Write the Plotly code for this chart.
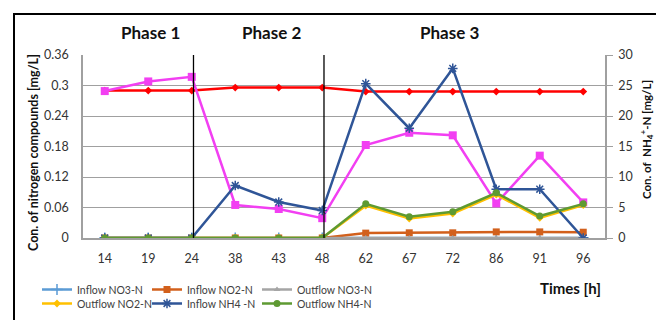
import plotly.graph_objects as go

times = ["14", "19", "24", "38", "43", "48", "62", "67", "72", "86", "91", "96"]

inflow_no3 = [0, 0, 0, 0, 0, 0, 0, 0, 0, 0, 0, 0]
inflow_no2 = [0, 0, 0, 0, 0, 0, 0.8, 0.85, 0.85, 1.0, 1.0, 0.95]
outflow_no3 = [0, 0, 0, 0, 0, 0, 0, 0, 0, 0, 0, 0]
outflow_no2 = [0, 0, 0, 0, 0, 0, 5.3, 3.2, 4.0, 7.1, 3.3, 5.4]
inflow_nh4 = [0, 0, 0, 8.6, 5.9, 4.5, 25.3, 18.0, 27.8, 8.0, 8.0, 0]
outflow_nh4 = [0, 0, 0, 0, 0, 0, 5.6, 3.5, 4.3, 7.4, 3.6, 5.6]
series_red = [0.29, 0.29, 0.29, 0.296, 0.296, 0.296, 0.288, 0.288, 0.288, 0.288, 0.288, 0.288]
series_magenta = [0.289, 0.308, 0.317, 0.065, 0.057, 0.039, 0.183, 0.207, 0.202, 0.068, 0.162, 0.070]

phase_labels = ["Phase 1", "Phase 2", "Phase 3"]
phase_centers_px = [150, 271, 449]
phase_bounds = ["24", "48"]

FONT = "Lato"
L, R, T, B = 83, 605, 55, 238
W, H = 656, 320

def px_x(px):
    return (px - L) / (R - L)

def px_y(py):
    return (B - py) / (B - T)

fig = go.Figure()

fig.add_trace(go.Scatter(x=times, y=inflow_no3, name="Inflow NO3-N", yaxis="y2",
                         mode="lines+markers", line=dict(color="#5B9BD5", width=2.5),
                         marker=dict(symbol="cross-thin-open", size=8, line=dict(color="#5B9BD5", width=1.5)),
                         legend="legend"))
fig.add_trace(go.Scatter(x=times, y=inflow_no2, name="Inflow NO2-N", yaxis="y2",
                         mode="lines+markers", line=dict(color="#D2601C", width=2.5),
                         marker=dict(symbol="square", size=7, color="#D2601C"),
                         legend="legend"))
fig.add_trace(go.Scatter(x=times, y=outflow_no3, name="Outflow NO3-N", yaxis="y2",
                         mode="lines+markers", line=dict(color="#A5A5A5", width=2.5),
                         marker=dict(symbol="triangle-up", size=6, color="#A5A5A5"),
                         legend="legend"))
fig.add_trace(go.Scatter(x=times, y=outflow_no2, name="Outflow NO2-N", yaxis="y2",
                         mode="lines+markers", line=dict(color="#FFC000", width=2.5),
                         marker=dict(symbol="diamond", size=6, color="#FFC000"),
                         legend="legend2"))
fig.add_trace(go.Scatter(x=times, y=inflow_nh4, name="Inflow NH4 -N", yaxis="y2",
                         mode="lines+markers", line=dict(color="#2F5597", width=2.5),
                         marker=dict(symbol="asterisk-open", size=8, line=dict(color="#2F5597", width=1.5)),
                         legend="legend2"))
fig.add_trace(go.Scatter(x=times, y=outflow_nh4, name="Outflow NH4-N", yaxis="y2",
                         mode="lines+markers", line=dict(color="#5E9A32", width=2.5),
                         marker=dict(symbol="circle", size=7, color="#5E9A32"),
                         legend="legend2"))
fig.add_trace(go.Scatter(x=times, y=series_red, name="Series 7", yaxis="y",
                         mode="lines+markers", line=dict(color="#FF0000", width=2.5),
                         marker=dict(symbol="diamond", size=6, color="#FF0000"),
                         showlegend=False))
fig.add_trace(go.Scatter(x=times, y=series_magenta, name="Series 8", yaxis="y",
                         mode="lines+markers", line=dict(color="#F23FF2", width=2.5),
                         marker=dict(symbol="square", size=8, color="#F23FF2"),
                         showlegend=False))
# empty spacer entries so the last legend label of each row is not clipped
for lg in ["legend", "legend2"]:
    fig.add_trace(go.Scatter(x=[None], y=[None], name=" ", mode="lines",
                             line=dict(color="rgba(0,0,0,0)", width=0), hoverinfo="skip",
                             legend=lg))

for b in phase_bounds:
    idx = times.index(b)
    fig.add_shape(type="line", xref="x", yref="paper", x0=idx + 0.04, x1=idx + 0.04, y0=0, y1=1,
                  line=dict(color="black", width=1.3), layer="above")

# outer frame (partially cut off at right/bottom)
fig.add_shape(type="rect", xref="paper", yref="paper",
              x0=px_x(14), x1=px_x(700), y0=px_y(400), y1=px_y(14),
              line=dict(color="black", width=2), layer="below")

for lab, cx in zip(phase_labels, phase_centers_px):
    fig.add_annotation(text="<b>%s</b>" % lab, x=px_x(cx), y=px_y(32), xref="paper", yref="paper",
                       xanchor="center", yanchor="middle",
                       showarrow=False, font=dict(family=FONT, size=17, color="#111"))

fig.add_annotation(text="<b>Con. of nitrogen compounds [mg/L]</b>", textangle=-90,
                   x=px_x(33), y=px_y(153), xref="paper", yref="paper", showarrow=False,
                   xanchor="center", yanchor="middle",
                   font=dict(family=FONT, size=12.5, color="#111"))
fig.add_annotation(text="<b>Con. of  NH<sub>4</sub><sup>+</sup>-N [mg/L]</b>", textangle=-90,
                   x=px_x(646), y=px_y(140), xref="paper", yref="paper", showarrow=False,
                   xanchor="center", yanchor="middle",
                   font=dict(family=FONT, size=11.5, color="#111"))
fig.add_annotation(text="<b>Times [h]</b>", x=px_x(603), y=px_y(288), xref="paper", yref="paper",
                   xanchor="right", yanchor="middle",
                   showarrow=False, font=dict(family=FONT, size=15, color="#111"))

legend_style = dict(orientation="h", xanchor="left", yanchor="top",
                    entrywidth=65, entrywidthmode="pixels",
                    font=dict(family=FONT, size=10.5, color="#404040"),
                    bgcolor="rgba(0,0,0,0)", tracegroupgap=0, itemwidth=30)

fig.update_layout(
    width=W, height=H,
    margin=dict(l=L, r=W - R, t=T, b=H - B, autoexpand=False),
    paper_bgcolor="white", plot_bgcolor="white",
    font=dict(family=FONT, size=12, color="#333"),
    showlegend=True,
    xaxis=dict(type="category", range=[-0.5, len(times) - 0.5], showgrid=False, showline=True,
               linecolor="#A0A0A0", linewidth=1.5, ticks="", tickfont=dict(size=12.5, color="#333"),
               ticklabelstandoff=8, zeroline=False),
    yaxis=dict(range=[0, 0.36], dtick=0.06, tick0=0, showgrid=True, gridcolor="#A0A0A0", gridwidth=1.3,
               showline=True, linecolor="#A0A0A0", linewidth=1.5, ticks="", zeroline=False,
               tickfont=dict(size=12.5, color="#333"), ticklabelstandoff=10),
    yaxis2=dict(range=[0, 30], dtick=5, tick0=0, overlaying="y", side="right", showgrid=False,
                showline=True, linecolor="#A0A0A0", linewidth=1.5, ticks="outside", ticklen=6,
                tickcolor="#A0A0A0", tickwidth=1.3, zeroline=False,
                tickfont=dict(size=12.5, color="#333"), ticklabelstandoff=3),
    legend=dict(x=px_x(37), y=px_y(275), **legend_style),
    legend2=dict(x=px_x(37), y=px_y(289), **legend_style),
)

fig.write_html("out.html", config={"displayModeBar": False},
               post_script="document.body.style.margin='0';")
